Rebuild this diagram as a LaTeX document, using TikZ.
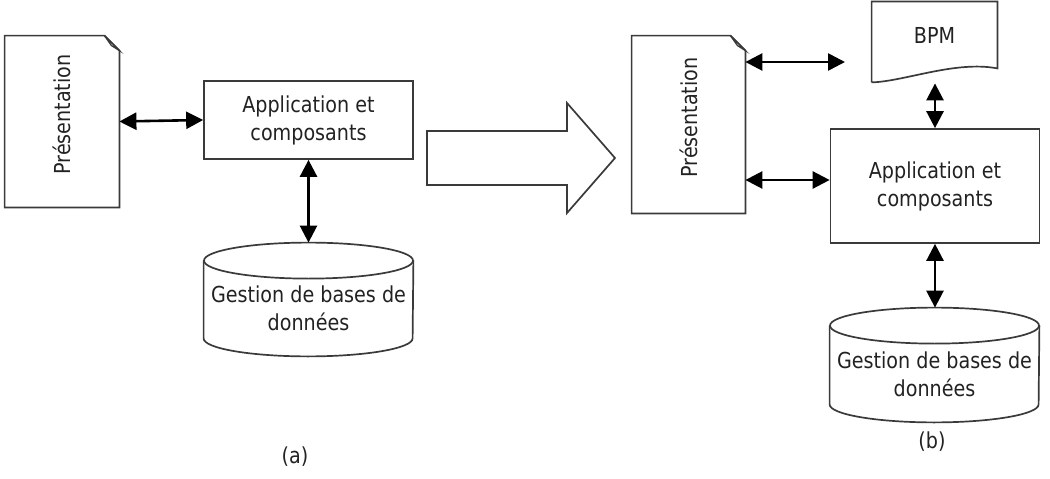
\documentclass[tikz,border=0pt]{standalone}
\usepackage{fontspec}
\setmainfont{DejaVu Sans}[FakeStretch=0.87]
\usetikzlibrary{arrows.meta,positioning,calc}
\definecolor{boxline}{HTML}{3A3A3A}
\definecolor{inkgray}{HTML}{222222}
\definecolor{foldgray}{HTML}{C8C8C8}

% folded-corner page outline around a plain node
\newcommand{\pagefold}[1]{%
  \draw[boxline, line width=0.85pt] (#1.south west) -- (#1.north west) -- ([xshift=-7.5pt]#1.north east)
    -- ([yshift=-7.5pt]#1.north east) -- (#1.south east) -- cycle;
  \filldraw[boxline, fill=foldgray, line width=0.6pt] ([xshift=-7.5pt]#1.north east)
    -- ([xshift=-4pt,yshift=-5pt]#1.north east) -- ([yshift=-7.5pt]#1.north east) -- cycle;
}
% database drum, the node is the body from the lid centre line down
\newcommand{\drum}[1]{%
  \draw[boxline, line width=0.85pt] (#1.north west) -- ($(#1.south west)+(0,18)$)
    arc[start angle=180, end angle=360, x radius=52.25pt, y radius=9pt] -- (#1.north east);
  \draw[boxline, line width=0.85pt] (#1.north) ellipse[x radius=52.25pt, y radius=9pt];
}

\begin{document}
\begin{tikzpicture}[
  x=0.5pt, y=0.5pt,
  font=\fontsize{11}{14}\selectfont,
  text=inkgray,
  >={Triangle[length=8.5pt,width=8.5pt]},
  docpage/.style={inner sep=0pt},
  appbox/.style={
    draw=boxline,
    line width=0.85pt,
    align=center,
    inner sep=0pt,
    minimum width=104.5pt
  },
  drumbody/.style={align=center, inner sep=0pt, minimum width=104.5pt, minimum height=47.5pt},
  link/.style={<->, line width=1.3pt, black}
]
  \useasboundingbox (0,0) rectangle (1050,478);

  % --- (a) three tiers ---
  \node[docpage, minimum width=57pt, minimum height=85.5pt,
    label={[yshift=3.5pt, rotate=90]center:Présentation}] (presA) at (62,356.5) {};
  \pagefold{presA}

  \node[appbox, minimum height=39pt] (appA) at (308.5,358) {Application et\\composants};

  \node[drumbody] (dbA) at (308.5,169.5) {Gestion de bases de\\données};
  \drum{dbA}
  \coordinate (dbAtop) at ($(dbA.north)+(0,18)$);

  \draw[link] (presA.east) -- (appA.west);
  \draw[link] (appA.south) -- (dbAtop);

  \node (capA) at (295,21) {(a)};

  % Transition arrow
  \draw[boxline, line width=0.85pt] (427,347) -- (567,347) -- (567,375) -- (615,320)
    -- (567,265) -- (567,293) -- (427,293) -- cycle;

  % --- (b) with the BPM layer ---
  \node[docpage, minimum width=56.5pt, minimum height=88.5pt,
    label={[yshift=3.5pt, rotate=90]center:Présentation}] (presB) at (688.5,353.5) {};
  \pagefold{presB}

  \node[docpage, minimum width=62.5pt, minimum height=33pt] (bpm) at (934.5,443) {BPM};
  \draw[boxline, line width=0.85pt] ($(bpm.south west)+(0,-14)$) -- (bpm.north west) -- (bpm.north east)
    -- (bpm.south east) .. controls ($(bpm.south east)+(-42,8)$) and ($(bpm.south west)+(33,-13)$)
    .. ($(bpm.south west)+(0,-14)$);
  \coordinate (bpmfoot) at ($(bpm.south)+(0,-15)$);
  \coordinate (bpmin) at (845,416);

  \node[appbox, minimum height=57pt] (appB) at (935,292) {Application et\\composants};
  \coordinate (appBin) at ($(appB.west)+(0,6)$);

  \node[drumbody, minimum height=48pt] (dbB) at (934.5,104) {Gestion de bases de\\données};
  \drum{dbB}
  \coordinate (dbBtop) at ($(dbB.north)+(0,18)$);

  \draw[link] (presB.east |- bpmin) -- (bpmin);
  \draw[link] (presB.east |- appBin) -- (appBin);
  \draw[link] (appB.north) -- (appB.north |- bpmfoot);
  \draw[link] (appB.south) -- (appB.south |- dbBtop);

  \node (capB) at (932,36) {(b)};

\end{tikzpicture}
\end{document}
